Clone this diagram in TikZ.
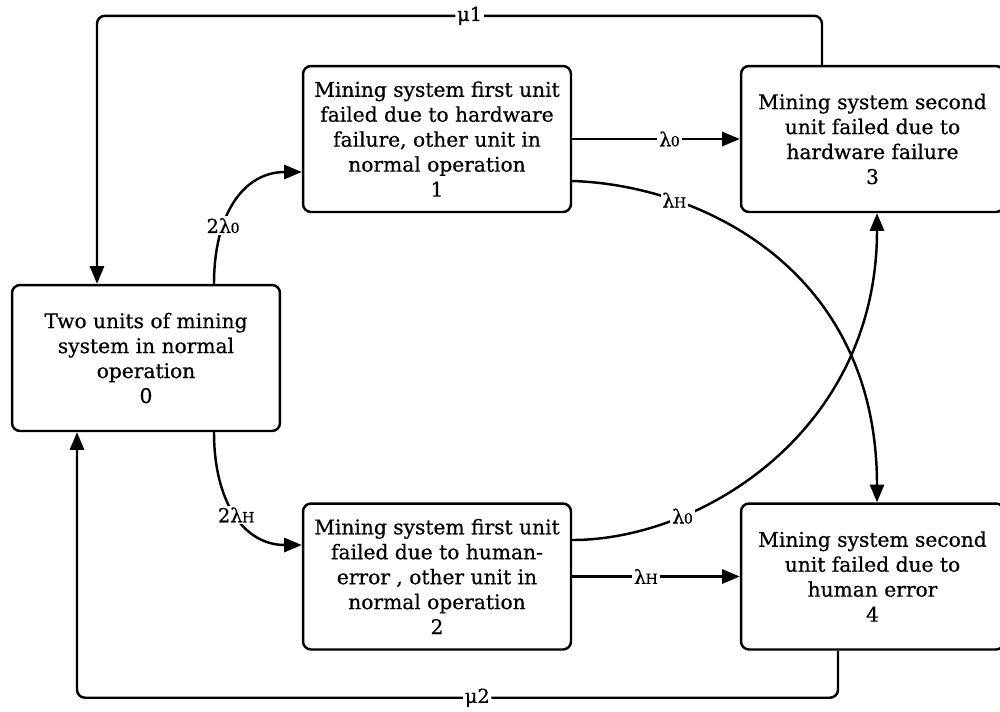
\documentclass[tikz,border=0pt]{standalone}
\usepackage{fontspec}
\setmainfont{DejaVu Serif}[BoldFont=DejaVu Serif, BoldFeatures={FakeBold=0.6}]
\usetikzlibrary{arrows.meta,calc}
\newcommand{\lsub}[1]{λ\kern-0.3pt{\fontsize{8}{8}\selectfont #1}}
\tikzset{
  box/.style={draw, line width=1.4pt, rounded corners=0.16cm, align=center,
    minimum width=5.36cm, minimum height=2.92cm, inner sep=0pt,
    font=\fontsize{11.5}{14.2}\selectfont\bfseries},
  wbox/.style={box, minimum width=5.26cm},
  conn/.style={line width=1.4pt, -{Triangle[length=10pt,width=8pt]}},
  lbl/.style={fill=white, inner sep=1pt, font=\fontsize{11}{13}\selectfont\bfseries}
}
\begin{document}
\begin{tikzpicture}[x=0.02cm,y=-0.02cm]
\clip (0,0) rectangle (1000,711);
\fill[white] (0,0) rectangle (1000,711);
\node[box] (b0) at (146,358) {Two units of mining\\system in normal\\operation\\0};
\node[box] (b1) at (437,139) {Mining system first unit\\failed due to hardware\\failure, other unit in\\normal operation\\1};
\node[box] (b2) at (437,576.5) {Mining system first unit\\failed due to human-\\error , other unit in\\normal operation\\2};
\node[wbox] (b3) at (872.5,139) {Mining system second\\unit failed due to\\hardware failure\\3};
\node[wbox] (b4) at (872.5,576.5) {Mining system second\\unit failed due to\\human error\\4};
% mu1 and mu2 return paths
\draw[conn, rounded corners=0.16cm] ($(b3.north)+(-50.5,0)$) -- ++(0,-49) -| node[lbl, pos=0.243] {μ1} ($(b0.north)+(-49,0)$);
\draw[conn, rounded corners=0.16cm] ($(b4.south)+(-34.5,0)$) -- ++(0,47) -| node[lbl, pos=0.237] {μ2} ($(b0.south)+(-69,0)$);
% from state 0
\draw[conn] ($(b0.north)+(68,0)$) .. controls ($(b0.north)+(68,-70)$) and ($(b1.west)+(-58,33)$) .. node[lbl, pos=0.32] {2\lsub{0}} ($(b1.west)+(0,33)$);
\draw[conn] ($(b0.south)+(68,0)$) .. controls ($(b0.south)+(68,70)$) and ($(b2.west)+(-58,-31.5)$) .. node[lbl, pos=0.5] {2\lsub{H}} ($(b2.west)+(0,-31.5)$);
% straight transitions
\draw[conn] (b1.east) -- node[lbl, pos=0.58] {\lsub{0}} (b3.west);
\draw[conn] (b2.east) -- node[lbl, pos=0.44] {\lsub{H}} (b4.west);
% crossing curves
\draw[conn] ($(b1.east)+(0,42)$) .. controls ($(b1.east)+(129,46)$) and ($(b4.north)+(4.5,-233)$) .. node[lbl, pos=0.25] {\lsub{H}} ($(b4.north)+(4.5,0)$);
\draw[conn] ($(b2.east)+(0,-36.5)$) .. controls ($(b2.east)+(129,-36.5)$) and ($(b3.south)+(4.5,218)$) .. node[lbl, pos=0.27] {\lsub{0}} ($(b3.south)+(4.5,0)$);
\end{tikzpicture}
\end{document}
